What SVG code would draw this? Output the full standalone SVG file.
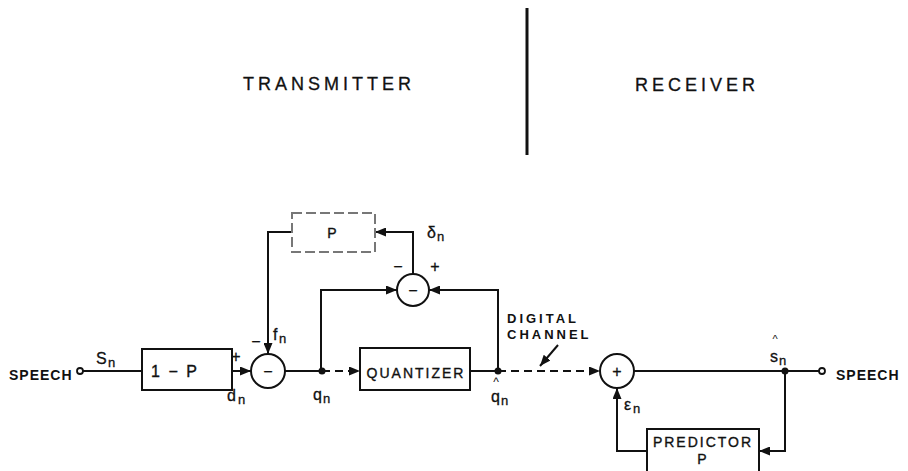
<svg xmlns="http://www.w3.org/2000/svg" width="908" height="471" viewBox="0 0 908 471">
<style>
.ln{fill:none;stroke:#111;stroke-width:2}
.dash{fill:none;stroke:#111;stroke-width:2;stroke-dasharray:8,5}
.box{fill:#fff;stroke:#111;stroke-width:2}
.faint{fill:#fff;stroke:#777;stroke-width:2;stroke-dasharray:10,4}
.sum{fill:#fff;stroke:#111;stroke-width:2}
.dot{fill:#111}
.open{fill:#fff;stroke:#111;stroke-width:1.8}
.t{font-family:"Liberation Sans",Arial,sans-serif;fill:#111}
.hd{font-size:18px;letter-spacing:4px;stroke:#111;stroke-width:0.3}
.lb{font-size:14px;font-weight:bold;letter-spacing:1px}
.dc{font-size:13px;font-weight:bold;letter-spacing:3px}
.bx{font-size:14px;letter-spacing:2px;stroke:#111;stroke-width:0.35}
.sym{font-size:16px;stroke:#111;stroke-width:0.3}
.sub{font-size:13px;stroke:#111;stroke-width:0.3}
.hat{font-size:12px}
</style>
<defs>
<marker id="ah" markerUnits="userSpaceOnUse" markerWidth="11" markerHeight="9" refX="11" refY="4.5" orient="auto">
<path d="M0,0 L11,4.5 L0,9 z" fill="#111"/>
</marker>
</defs>

<rect width="908" height="471" fill="#fff"/>

<g id="headings">
<text class="t hd" x="243" y="90">TRANSMITTER</text>
<text class="t hd" x="635" y="91">RECEIVER</text>
<line x1="527" y1="8" x2="527" y2="155" stroke="#111" stroke-width="3"/>
</g>

<g id="connectors">
<path class="ln" d="M83,371 H142"/>
<path class="ln" d="M232,371 H251" marker-end="url(#ah)"/>
<path class="ln" d="M292,232 H268 V354" marker-end="url(#ah)"/>
<path class="ln" d="M285,371 H322"/>
<path class="dash" d="M322,371 H360" marker-end="url(#ah)"/>
<path class="ln" d="M470,371 H498"/>
<path class="ln" d="M321,371 V290 H397" marker-end="url(#ah)"/>
<path class="ln" d="M498,371 V290 H429" marker-end="url(#ah)"/>
<path class="ln" d="M413,274 V232 H375" marker-end="url(#ah)"/>
<path class="dash" d="M498,371 H600" marker-end="url(#ah)"/>
<path class="ln" d="M634,371 H819"/>
<path class="ln" d="M785,371 V451 H759" marker-end="url(#ah)"/>
<path class="ln" d="M647,451 H617 V388" marker-end="url(#ah)"/>
<path class="ln" d="M558,345 L540,366" marker-end="url(#ah)"/>
</g>

<g id="speech-in">
<text class="t lb" x="9" y="380">SPEECH</text>
<circle class="open" cx="80" cy="371" r="3"/>
<text class="t sym" x="96" y="364">S</text><text class="t sub" x="108" y="367">n</text>
</g>

<g id="one-minus-p">
<rect class="box" x="142" y="349" width="90" height="41"/>
<text class="t bx" x="175" y="377" text-anchor="middle" style="font-size:16px">1 − P</text>
</g>

<g id="sub1">
<circle class="sum" cx="268" cy="371" r="17"/>
<text class="t sym" x="268" y="377" text-anchor="middle" fill="#888" stroke="none">−</text>
<text class="t sym" x="236" y="362" text-anchor="middle">+</text>
<text class="t sym" x="256" y="347" text-anchor="middle">−</text>
<text class="t sym" x="273" y="340">f</text><text class="t sub" x="279" y="343">n</text>
<text class="t sym" x="227" y="401">d</text><text class="t sub" x="238" y="404">n</text>
</g>

<g id="pred-tx">
<rect class="faint" x="292" y="213" width="83" height="39"/>
<text class="t bx" x="333" y="238" text-anchor="middle" fill="#777" stroke="none">P</text>
<text class="t sym" x="427" y="238">δ</text><text class="t sub" x="437" y="241">n</text>
</g>

<g id="sub2">
<circle class="sum" cx="413" cy="290" r="16"/>
<text class="t sym" x="413" y="296" text-anchor="middle">−</text>
<text class="t sym" x="398" y="272" text-anchor="middle">−</text>
<text class="t sym" x="435" y="272" text-anchor="middle">+</text>
</g>

<g id="qn-node">
<circle class="dot" cx="322" cy="371" r="3.5"/>
<text class="t sym" x="313" y="400">q</text><text class="t sub" x="323" y="403">n</text>
</g>

<g id="quantizer">
<rect class="box" x="360" y="348" width="110" height="42"/>
<text class="t bx" x="416" y="378" text-anchor="middle">QUANTIZER</text>
</g>

<g id="qhat-node">
<circle class="dot" cx="498" cy="371" r="3.5"/>
<text class="t hat" x="496" y="386" text-anchor="middle">^</text>
<text class="t sym" x="491" y="402">q</text><text class="t sub" x="501" y="405">n</text>
</g>

<g id="digital-channel">
<text class="t dc" x="507" y="323">DIGITAL</text>
<text class="t dc" x="507" y="339">CHANNEL</text>
</g>

<g id="adder">
<circle class="sum" cx="617" cy="371" r="17"/>
<text class="t sym" x="617" y="377" text-anchor="middle">+</text>
<text class="t sym" x="624" y="410">ε</text><text class="t sub" x="633" y="413">n</text>
</g>

<g id="shat-node">
<circle class="dot" cx="785" cy="371" r="3.5"/>
<text class="t hat" x="775" y="343" text-anchor="middle" style="font-size:11px">^</text>
<text class="t sym" x="770" y="362">s</text><text class="t sub" x="779" y="365">n</text>
</g>

<g id="predictor-rx">
<rect class="box" x="647" y="429" width="112" height="50"/>
<text class="t bx" x="703" y="447" text-anchor="middle">PREDICTOR</text>
<text class="t bx" x="703" y="464" text-anchor="middle">P</text>
</g>

<g id="speech-out">
<circle class="open" cx="822" cy="371" r="3"/>
<text class="t lb" x="836" y="380">SPEECH</text>
</g>
</svg>
